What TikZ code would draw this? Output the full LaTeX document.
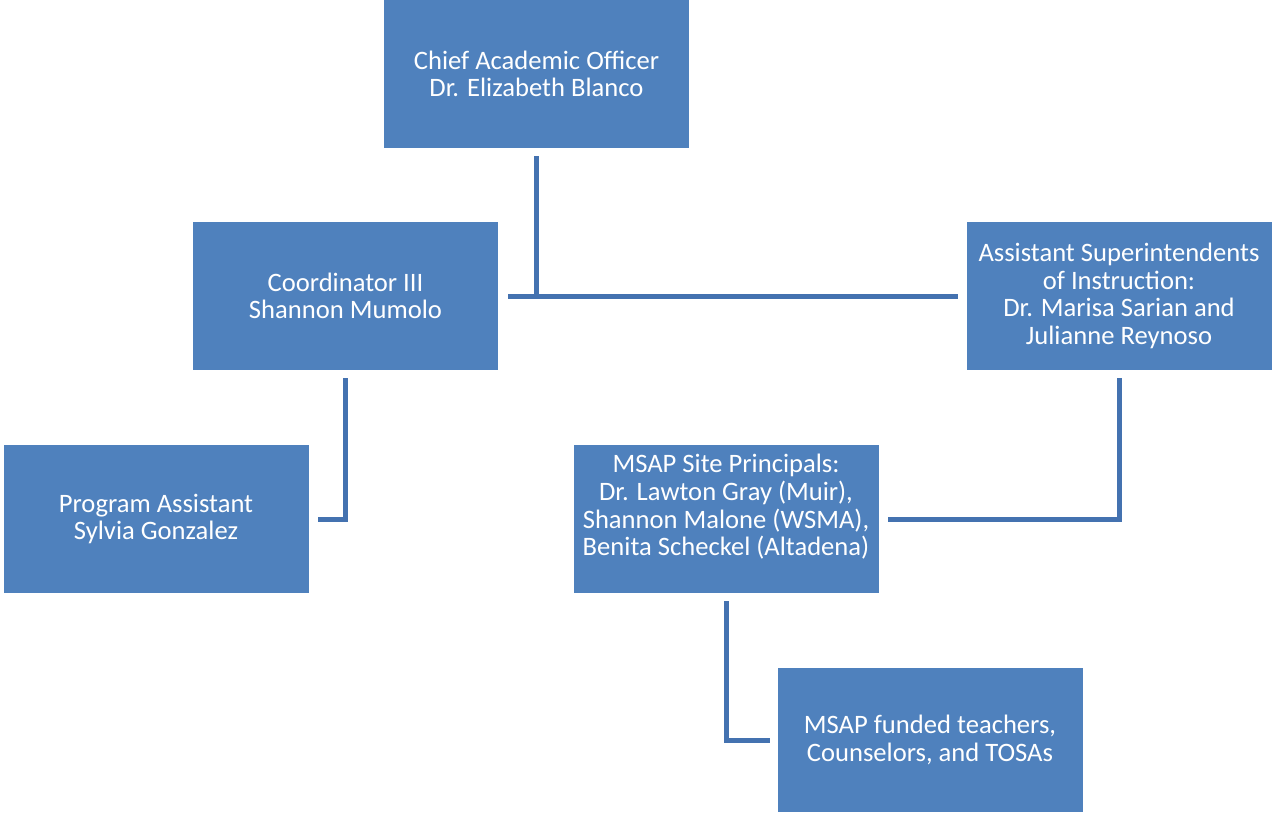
\documentclass[tikz,border=0pt]{standalone}
\usepackage{fontspec}
\setmainfont{Carlito}
\definecolor{BoxFill}{RGB}{79,129,189}
\definecolor{LinkColor}{RGB}{68,114,176}
\usetikzlibrary{positioning}
\tikzset{
  % Org chart box
  orgbox/.style={
    rectangle,
    fill=BoxFill,
    minimum width=305pt,
    minimum height=148pt,
    inner sep=0pt,
    align=center,
    text=white,
    font=\fontsize{26.6}{27.6}\selectfont
  },
  % Connector
  link/.style={
    draw=LinkColor,
    line width=5pt
  }
}
\begin{document}
\begin{tikzpicture}[x=1pt,y=-1pt]
  \useasboundingbox (0,0) rectangle (1272,812);

  \node[orgbox] (chief) at (536.5,74) {Chief Academic Officer\\Dr. Elizabeth Blanco};
  \node[orgbox] (coord) at (345.5,296) {Coordinator III\\Shannon Mumolo};
  \node[orgbox] (asst) at (1119,296) {Assistant Superintendents\\of Instruction:\\Dr. Marisa Sarian and\\Julianne Reynoso};
  \node[orgbox] (prog) at (156,519) {Program Assistant\\Sylvia Gonzalez};
  \node[orgbox, text depth=28pt] (site) at (726,519) {MSAP Site Principals:\\Dr. Lawton Gray (Muir),\\Shannon Malone (WSMA),\\Benita Scheckel (Altadena)};
  \node[orgbox, minimum height=144pt] (teach) at (930,740) {MSAP funded teachers,\\Counselors, and TOSAs};

  \coordinate (chieftop) at ([yshift=-8pt]chief.south);
  \draw[link] ([xshift=10pt]coord.east) -- ([xshift=-8pt]asst.west);
  \draw[link] (chieftop) -- (chieftop |- coord.east);
  \draw[link] ([yshift=-8pt]coord.south) |- ([xshift=9pt]prog.east);
  \draw[link] ([yshift=-8pt]asst.south) |- ([xshift=9pt]site.east);
  \draw[link] ([yshift=-8pt]site.south) |- ([xshift=-7pt]teach.west);
\end{tikzpicture}
\end{document}
